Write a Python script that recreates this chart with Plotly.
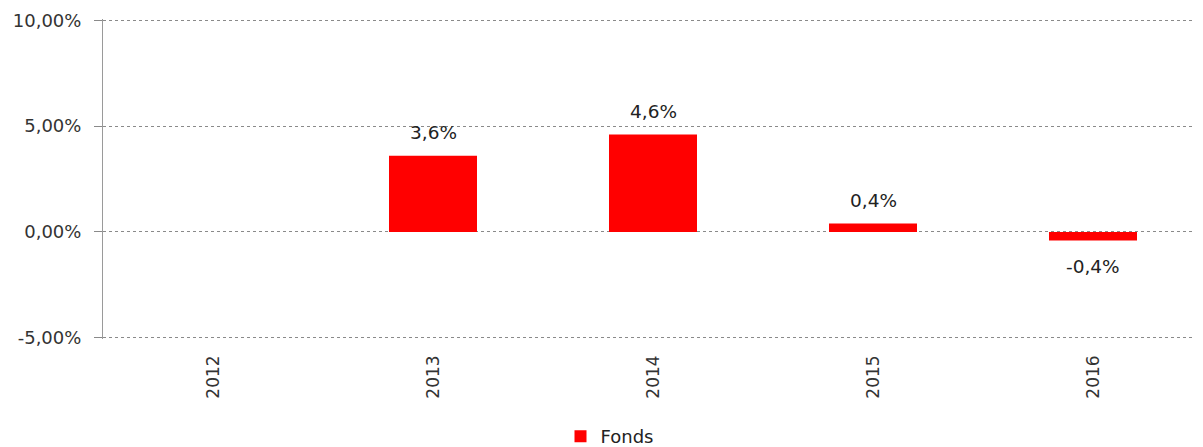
import plotly.graph_objects as go

years = ["2012", "2013", "2014", "2015", "2016"]
fonds = [None, 0.036, 0.046, 0.004, -0.004]
tick_vals = [-0.05, 0.0, 0.05, 0.10]
tick_text = ["-5,00%", "0,00%", "5,00%", "10,00%"]

FONT = "DejaVu Sans, Verdana, sans-serif"

fig = go.Figure()
fig.add_trace(go.Bar(
    x=years, y=fonds, name="Fonds",
    marker=dict(color="#ff0000", line=dict(width=0)),
    showlegend=True,
))

for i, v in enumerate(fonds):
    if v is None:
        continue
    pos = v >= 0
    fig.add_annotation(
        x=i, y=v, xref="x", yref="y",
        text=f"{v*100:.1f}%".replace(".", ","),
        showarrow=False,
        yanchor="middle",
        yshift=23 if pos else -26,
        font=dict(family=FONT, size=18.5, color="#222222"),
    )

grid = dict(showgrid=True, gridcolor="#8a8a8a", gridwidth=1, griddash="dot")
fig.update_layout(
    width=1203, height=447,
    margin=dict(l=95, r=8, t=11, b=116),
    paper_bgcolor="white", plot_bgcolor="white",
    separators=", ",
    bargap=0.6,
    font=dict(family=FONT, size=17, color="#222222"),
    xaxis=dict(
        type="category", categoryorder="array", categoryarray=years,
        range=[-0.5, len(years) - 0.5], automargin=False,
        tickangle=-90, showgrid=False, zeroline=False,
        showline=False, ticks="", ticklabelstandoff=12,
        tickfont=dict(family=FONT, size=17, color="#333333"),
    ),
    yaxis=dict(
        range=[-0.0506, 0.1006], tickvals=tick_vals, ticktext=tick_text,
        automargin=False,
        zeroline=False, showline=True, linecolor="#9a9a9a", linewidth=1,
        ticks="outside", ticklen=8, tickcolor="#8a8a8a",
        ticklabelstandoff=9,
        tickfont=dict(family=FONT, size=18, color="#333333"),
        **grid,
    ),
    legend=dict(
        orientation="h", xref="container", yref="container",
        x=0.5, xanchor="center", y=0.0, yanchor="bottom",
        font=dict(family=FONT, size=18, color="#222222"),
        itemwidth=30,
    ),
)

fig.write_html("out.html")
